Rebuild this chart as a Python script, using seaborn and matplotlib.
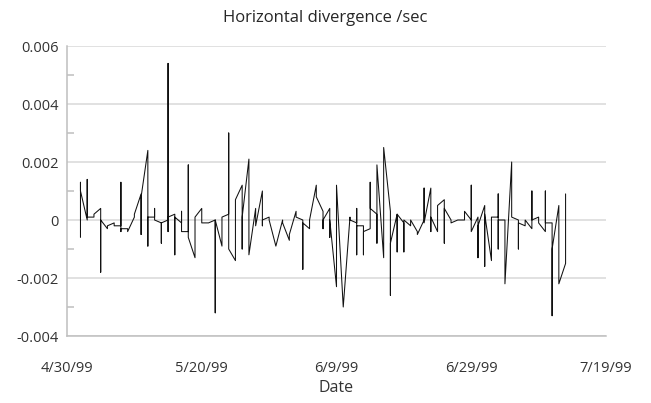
import numpy as np
import pandas as pd
import matplotlib
matplotlib.use("Agg")
import matplotlib.pyplot as plt
import matplotlib.dates as mdates
from matplotlib.ticker import FuncFormatter, MultipleLocator, FixedLocator
import seaborn as sns

# observations per date (several soundings share one date, so the line goes vertical)
first_day = "1999-05-02"
day_values = [
    [-0.0006, 0.0013, 0.0010],           # 5/2
    [0.0, 0.0014, 0.0001],
    [0.0001, 0.0002],
    [0.0004, -0.0018, 0.0],
    [-0.0003, -0.0002],
    [-0.0001, -0.0002],
    [-0.0002, 0.0013, -0.0004, -0.0003],
    [-0.0003, -0.0004],
    [0.0001, 0.0002],
    [0.0009, -0.0005, 0.0008],           # 5/11
    [0.0024, -0.0009, 0.0001],
    [0.0001, 0.0004, 0.0],
    [-0.0001, -0.0008, -0.0001],
    [0.0, 0.0054, -0.0004, 0.0001],
    [0.0002, -0.0012, 0.0001],
    [-0.0001, 0.0003, -0.0004],
    [-0.0004, 0.0019, -0.0006],
    [-0.0013, 0.0001],
    [0.0004, -0.0001],
    [-0.0001, -0.0001],                  # 5/21
    [0.0, -0.0032, 0.0],
    [-0.0009, 0.0001],
    [0.0002, 0.0030, -0.0010],
    [-0.0014, 0.0007],
    [0.0012, -0.0010, 0.0001],
    [0.0021, -0.0012],
    [0.0004, -0.0002],
    [0.0010, -0.0002, 0.0],
    [0.0001, 0.0],
    [-0.0009],                           # 5/31
    [0.0, -0.0001],
    [-0.0007, -0.0005],
    [0.0003, 0.0001],
    [0.0, -0.0017, -0.0001],
    [-0.0003, 0.0],
    [0.0012, 0.0008],
    [0.0003, -0.0003, 0.0],
    [0.0004, -0.0006, 0.0],
    [-0.0023, 0.0012],
    [-0.0030],                           # 6/10
    [0.0001, 0.0],
    [-0.0001, 0.0004, -0.0012, -0.0002],
    [-0.0002, -0.0012, -0.0004],
    [-0.0003, 0.0013, 0.0004],
    [0.0002, -0.0008, 0.0019],
    [-0.0013, 0.0025],
    [0.0003, -0.0026, -0.0008],
    [0.0002, -0.0011, 0.0002],
    [-0.0001, -0.0011, 0.0],
    [-0.0002, 0.0],                      # 6/20
    [-0.0004, -0.0005],
    [0.0, 0.0011, -0.0001],
    [0.0011, -0.0004, 0.0001],
    [-0.0004, 0.0005],
    [0.0007, -0.0008, 0.0004],
    [0.0, -0.0001],
    [0.0, 0.0],
    [0.0, 0.0003],
    [0.0, 0.0012, -0.0004],
    [0.0001, -0.0013, -0.0002],          # 6/30
    [0.0005, -0.0016, 0.0002],
    [-0.0014, 0.0001],
    [0.0001, 0.0009, -0.0010, 0.0],
    [0.0, -0.0022],
    [0.0020, 0.0001],
    [0.0, -0.0010, -0.0001],
    [-0.0002, 0.0],
    [-0.0003, 0.0010, 0.0],
    [0.0001, -0.0001],
    [-0.0004, 0.0010, -0.0001],          # 7/10
    [-0.0001, -0.0033, -0.0010],
    [0.0005, -0.0022],
    [-0.0015, 0.0009],
]

x_ticks = pd.date_range("1999-04-30", periods=5, freq="20D")
y_ticks = [-0.004, -0.002, 0, 0.002, 0.004, 0.006]

day_dates = pd.date_range(first_day, periods=len(day_values), freq="D")
dates = [d for d, vals in zip(day_dates, day_values) for _ in vals]
values = [v for vals in day_values for v in vals]
df = pd.DataFrame({"Date": dates, "div": values})

sns.set_style("white")
plt.rcParams["font.family"] = ["Open Sans", "DejaVu Sans"]

fig = plt.figure(figsize=(6.51, 4.03), dpi=100)
ax = fig.add_axes([67 / 651, 1 - 336 / 403, (606 - 67) / 651, (336 - 46) / 403])

sns.lineplot(data=df, x="Date", y="div", estimator=None, sort=False,
             color="#111111", linewidth=0.75, ax=ax)

ax.set_xlim(x_ticks[0], x_ticks[-1])
ax.set_ylim(-0.004, 0.006)
ax.xaxis.set_major_locator(FixedLocator(mdates.date2num(x_ticks)))
ax.xaxis.set_major_formatter(FuncFormatter(
    lambda v, p: (lambda d: f"{d.month}/{d.day}/{d.strftime('%y')}")(mdates.num2date(v))))
ax.yaxis.set_major_locator(FixedLocator(y_ticks))
ax.yaxis.set_minor_locator(MultipleLocator(0.001))
ax.yaxis.set_major_formatter(FuncFormatter(lambda v, p: "0" if abs(v) < 1e-12 else f"{v:.3f}"))

ax.grid(axis="y", color="#d9d9d9", linewidth=1.1)
for s in ["top", "right"]:
    ax.spines[s].set_visible(False)
for s in ["left", "bottom"]:
    ax.spines[s].set_color("#bfbfbf")
    ax.spines[s].set_linewidth(1.1)

ax.tick_params(axis="x", which="major", direction="out", length=6, width=1.1,
               color="#bfbfbf", labelsize=10.5, labelcolor="#333333", pad=12)
ax.tick_params(axis="y", which="major", length=0, labelsize=10.5, labelcolor="#333333", pad=6)
ax.tick_params(axis="y", which="minor", direction="in", length=5, width=1.1, color="#bfbfbf", left=True)

ax.set_xlabel("Date", fontsize=11.5, color="#333333", labelpad=3)
ax.set_ylabel("")
fig.text(325 / 651, 1 - 18 / 403, "Horizontal divergence /sec", ha="center", va="center",
         fontsize=12, color="#262626")

fig.savefig("out.png", dpi=100)
